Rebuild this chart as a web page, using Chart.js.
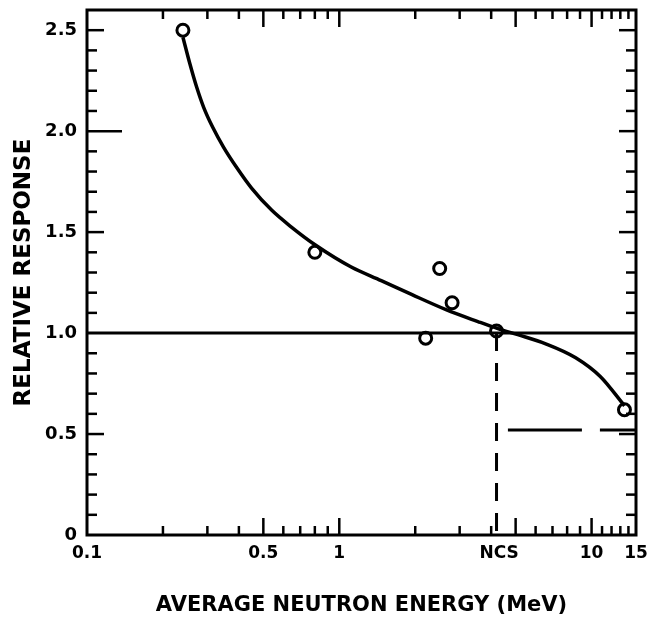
<!DOCTYPE html>
<html>
<head>
<meta charset="utf-8">
<script src="https://cdn.jsdelivr.net/npm/chart.js@4/dist/chart.umd.min.js"></script>
<style>
html,body{margin:0;padding:0;background:#fff;}
#wrap{width:651px;height:621px;}
</style>
</head>
<body>
<div id="wrap"><canvas id="c" width="651" height="621"></canvas></div>
<script>
// ---- data ----
const curveEnergy   = [0.24, 0.2554, 0.2722, 0.290, 0.315, 0.348, 0.392, 0.449, 0.539, 0.646, 0.804, 1.115, 1.466, 1.943, 2.648, 3.543, 4.251, 5.10, 6.58, 8.65, 10.85, 13.5];
const curveResponse = [2.465, 2.336, 2.217, 2.118, 2.019, 1.920, 1.820, 1.718, 1.609, 1.525, 1.436, 1.327, 1.260, 1.190, 1.116, 1.057, 1.022, 0.992, 0.947, 0.878, 0.784, 0.640];
const pointEnergy   = [0.24, 0.80, 2.2, 2.5, 2.8, 4.2, 13.5];
const pointResponse = [2.50, 1.40, 0.975, 1.32, 1.15, 1.01, 0.62];
const referenceLevel = 1.0;
const ncsEnergy = 4.2;
const halfLevel = 0.52;
const halfLineStart = 4.66;

const xLabelValues = [0.1, 0.5, 1, 4.3, 10, 15];
const xLabelTexts  = ['0.1', '0.5', '1', 'NCS', '10', '15'];
const yLabelValues = [0, 0.5, 1.0, 1.5, 2.0, 2.5];
const yLabelTexts  = ['0', '0.5', '1.0', '1.5', '2.0', '2.5'];

const xTickMarks = [0.2,0.3,0.4,0.5,0.6,0.7,0.8,0.9,1,2,3,4,5,6,7,8,9,10,11,12,13,14];
const xLongMarks = [0.5, 1, 5, 10];
const yTickMarks = [0.1,0.2,0.3,0.4,0.5,0.6,0.7,0.8,0.9,1.1,1.2,1.3,1.4,1.5,1.6,1.7,1.8,1.9,2.0,2.1,2.2,2.3,2.4,2.5];
const yLongMarks = [0.5, 1.5, 2.0, 2.5];
const yExtraLongLeft = [2.0];

const xMin = 0.1, xMax = 15, yMin = 0, yMax = 2.6;

const pts = (xs, ys) => xs.map((v, i) => ({x: v, y: ys[i]}));

const frameTicks = {
  id: 'frameTicks',
  afterDraw(chart) {
    const {ctx, chartArea: a, scales: {x, y}} = chart;
    const seg = (x1, y1, x2, y2) => { ctx.beginPath(); ctx.moveTo(x1, y1); ctx.lineTo(x2, y2); ctx.stroke(); };
    ctx.save();
    ctx.strokeStyle = '#000';
    ctx.lineCap = 'butt';
    ctx.lineWidth = 2.5;
    xTickMarks.forEach(v => {
      const px = x.getPixelForValue(v);
      const len = xLongMarks.includes(v) ? 17 : 9;
      seg(px, a.bottom, px, a.bottom - len);
      seg(px, a.top, px, a.top + len);
    });
    yTickMarks.forEach(v => {
      const py = y.getPixelForValue(v);
      const long = yLongMarks.includes(v);
      const lenL = yExtraLongLeft.includes(v) ? 35 : (long ? 17 : 10);
      const lenR = long ? 17 : 10;
      seg(a.left, py, a.left + lenL, py);
      seg(a.right, py, a.right - lenR, py);
    });
    ctx.lineWidth = 3;
    ctx.strokeRect(a.left, a.top, a.right - a.left, a.bottom - a.top);
    ctx.restore();
  }
};

const black = '#000';
const fontFam = "'DejaVu Sans', 'Liberation Sans', sans-serif";
const noPad = s => { s.paddingTop = 0; s.paddingBottom = 0; s.paddingLeft = 0; s.paddingRight = 0; };

new Chart(document.getElementById('c'), {
  type: 'scatter',
  data: {
    datasets: [
      { data: [{x: xMin, y: referenceLevel}, {x: xMax, y: referenceLevel}], showLine: true,
        borderColor: black, borderWidth: 3, pointRadius: 0 },
      { data: [{x: ncsEnergy, y: referenceLevel}, {x: ncsEnergy, y: yMin}], showLine: true,
        borderColor: black, borderWidth: 3, pointRadius: 0, borderDash: [18, 12] },
      { data: [{x: halfLineStart, y: halfLevel}, {x: xMax, y: halfLevel}], showLine: true,
        borderColor: black, borderWidth: 3, pointRadius: 0, borderDash: [74, 18] },
      { data: pts(curveEnergy, curveResponse), showLine: true, cubicInterpolationMode: 'monotone',
        borderColor: black, borderWidth: 3.5, pointRadius: 0 },
      { data: pts(pointEnergy, pointResponse), showLine: false,
        pointRadius: 6, pointBorderWidth: 3, pointBorderColor: black, pointBackgroundColor: '#fff' }
    ]
  },
  options: {
    responsive: false,
    animation: false,
    devicePixelRatio: 1,
    layout: { padding: { top: 10, right: 15, left: 0, bottom: 0 } },
    plugins: { legend: { display: false }, tooltip: { enabled: false } },
    scales: {
      x: {
        type: 'logarithmic', min: xMin, max: xMax,
        afterBuildTicks: s => { s.ticks = xLabelValues.map(v => ({value: v})); },
        afterFit: s => { s.height = 86; noPad(s); },
        grid: { display: false, drawTicks: false },
        border: { display: false },
        ticks: {
          autoSkip: false, maxRotation: 0, minRotation: 0, padding: 8, color: black,
          font: { family: fontFam, weight: 'bold', size: 17 },
          callback: (v, i) => xLabelTexts[i]
        },
        title: {
          display: true, text: 'AVERAGE NEUTRON ENERGY (MeV)', color: black,
          font: { family: fontFam, weight: 'bold', size: 21 },
          padding: { top: 0, bottom: 3 }
        }
      },
      y: {
        type: 'linear', min: yMin, max: yMax,
        afterBuildTicks: s => { s.ticks = yLabelValues.map(v => ({value: v})); },
        afterFit: s => { s.width = 87; noPad(s); },
        grid: { display: false, drawTicks: false },
        border: { display: false },
        ticks: {
          padding: 10, color: black,
          font: { family: fontFam, weight: 'bold', size: 18 },
          callback: (v, i) => yLabelTexts[i]
        },
        title: {
          display: true, text: 'RELATIVE RESPONSE', color: black,
          font: { family: fontFam, weight: 'bold', size: 23 },
          padding: { top: 10, bottom: 0 }
        }
      }
    }
  },
  plugins: [frameTicks]
});
</script>
</body>
</html>
